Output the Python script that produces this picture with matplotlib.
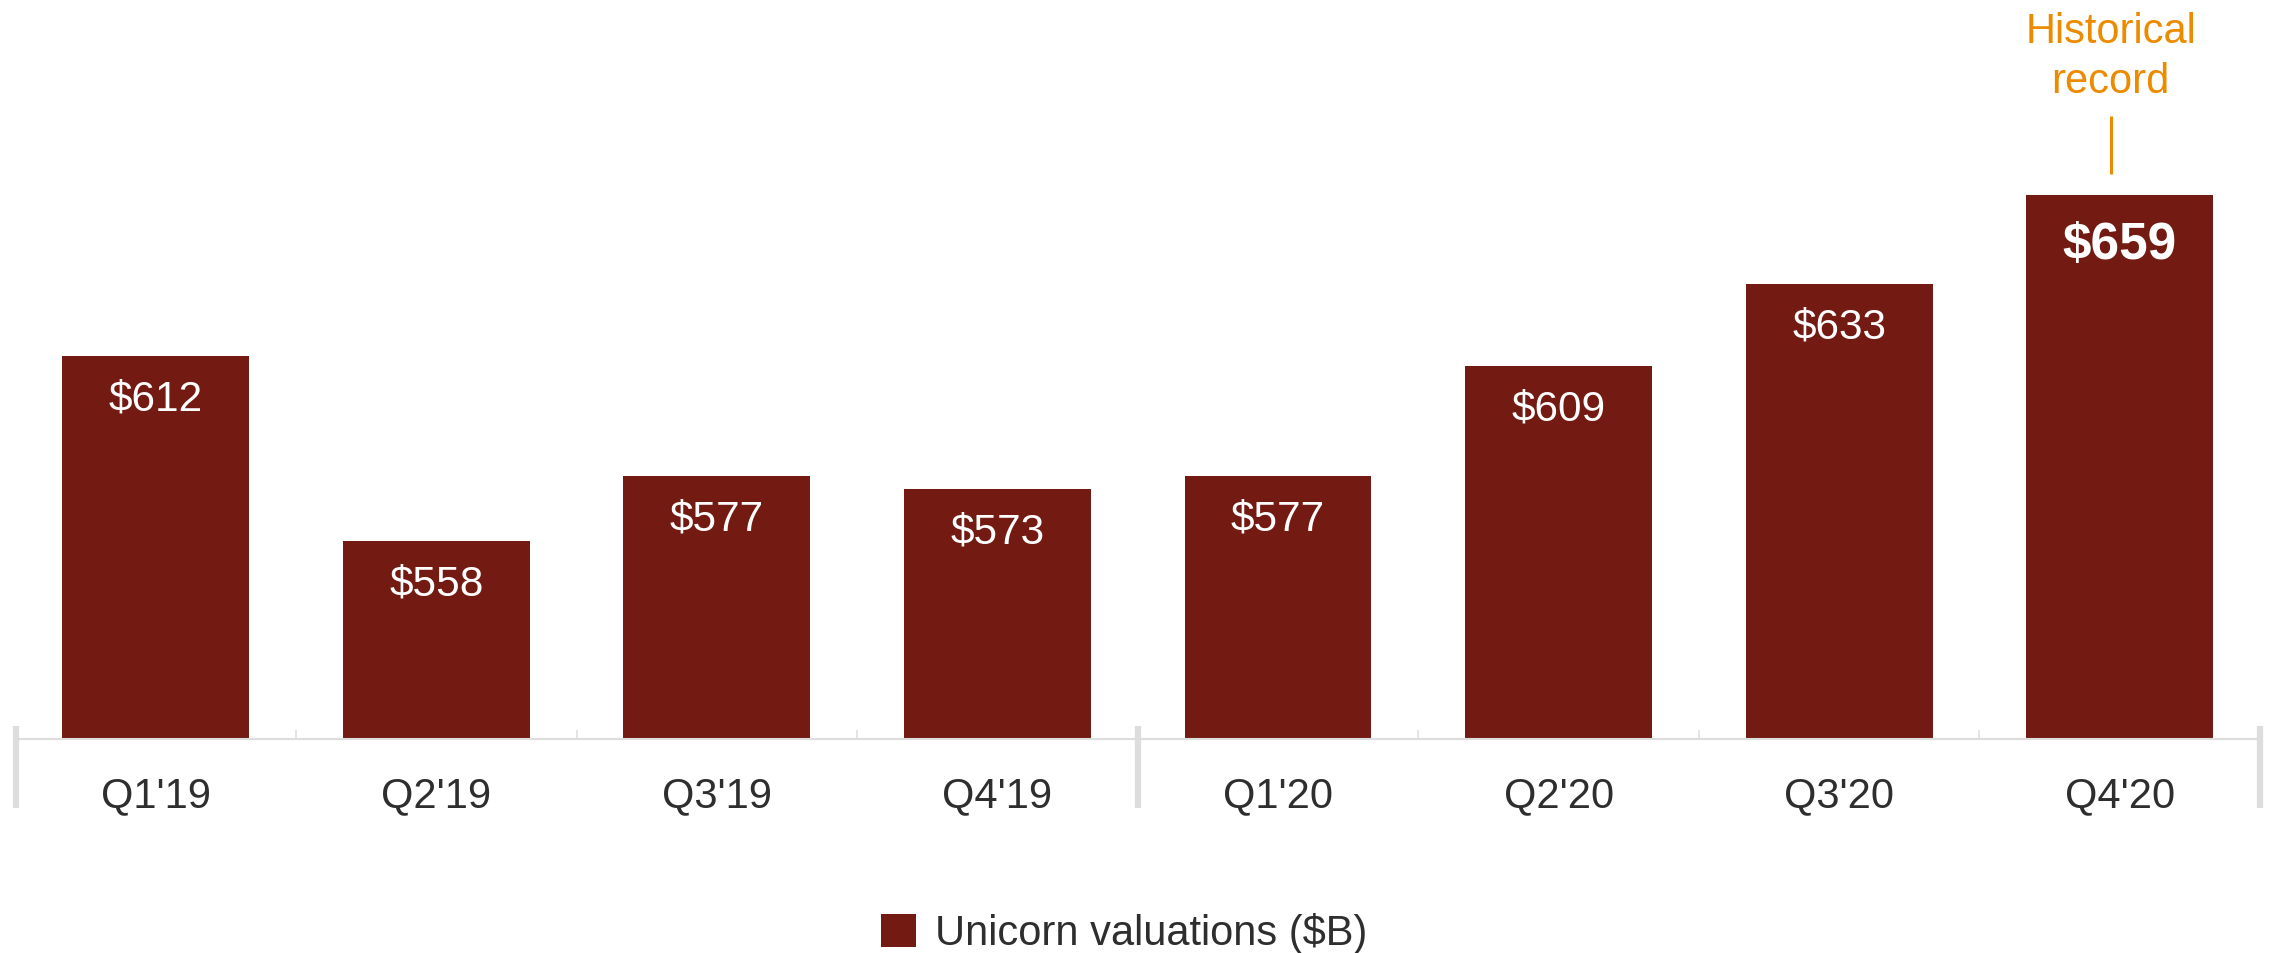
import matplotlib
matplotlib.use('Agg')
import matplotlib.pyplot as plt
import matplotlib.transforms as mtransforms

# Datos
quarters = ["Q1'19", "Q2'19", "Q3'19", "Q4'19", "Q1'20", "Q2'20", "Q3'20", "Q4'20"]
valuations = [612, 558, 577, 573, 577, 609, 633, 659]
value_labels = ['$612', '$558', '$577', '$573', '$577', '$609', '$633', '$659']
legend_label = 'Unicorn valuations ($B)'
note_text = 'Historical\nrecord'

# Estilo
bar_color = '#731A12'
axis_color = '#DDDDDD'
text_color = '#2E2E2E'
note_color = '#EC8B00'
plt.rcParams['font.family'] = ['Liberation Sans', 'DejaVu Sans']

fig = plt.figure(figsize=(22.7, 9.54), dpi=100)
ax = fig.add_axes([0.00683, 0.2243, 0.98876, 0.7757])

x = range(len(quarters))
bars = ax.bar(x, valuations, width=0.666, color=bar_color, bottom=0, zorder=2)

ax.set_xlim(-0.5, len(quarters) - 0.5)
ax.set_ylim(500, 716.4)

# Etiquetas de valor dentro de las barras
last = len(valuations) - 1
for i, (v, lab) in enumerate(zip(valuations, value_labels)):
    if i == last:
        ax.annotate(lab, xy=(i, v), xytext=(0, -45), textcoords='offset points',
                    ha='center', va='baseline', color='white', fontsize=37,
                    fontweight='bold')
    else:
        ax.annotate(lab, xy=(i, v), xytext=(0, -38.5), textcoords='offset points',
                    ha='center', va='baseline', color='white', fontsize=30.5)

# Nota "Historical record"
vx = last - 0.032
vtop = valuations[last]
ax.vlines(vx, vtop + 6.1, vtop + 23.2, color=note_color, linewidth=2.2)
ax.text(vx, vtop + 53.9, note_text, ha='center', va='top', color=note_color,
        fontsize=30, linespacing=1.32)

# Ejes
for s in ['top', 'left', 'right']:
    ax.spines[s].set_visible(False)
ax.spines['bottom'].set_color(axis_color)
ax.spines['bottom'].set_linewidth(1.5)
ax.set_yticks([])
ax.set_xticks(list(x))
ax.set_xticklabels(quarters, fontsize=30, color=text_color)
ax.tick_params(axis='x', which='major', length=0, pad=26)
ax.set_xticks([i + 0.5 for i in range(len(quarters) - 1)], minor=True)
ax.tick_params(axis='x', which='minor', direction='in', length=6.5, width=1.1,
               color=axis_color)

# Separadores gruesos (inicio, cambio de año, final)
trans = mtransforms.blended_transform_factory(ax.transData, ax.transAxes)
for sx in [-0.5, 3.5, len(quarters) - 0.5]:
    ax.plot([sx, sx], [0.0176, -0.0932], transform=trans, color=axis_color,
            linewidth=4.5, clip_on=False, solid_capstyle='butt', zorder=1)

# Leyenda
fig.legend(handles=[bars], labels=[legend_label], loc='center',
           bbox_to_anchor=(1124 / 2270, 20 / 954), frameon=False,
           fontsize=30, labelcolor=text_color, handlelength=0.84,
           handleheight=0.84, handletextpad=0.46)

plt.savefig('out.png', dpi=100)
